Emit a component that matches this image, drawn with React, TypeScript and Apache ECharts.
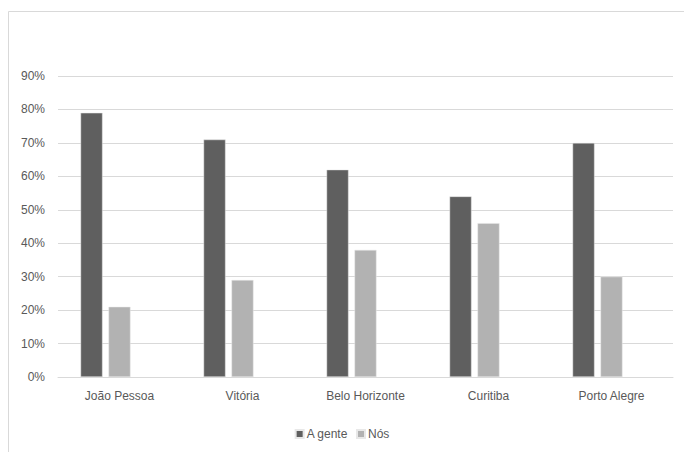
import React, { useEffect, useRef } from "react";
import * as echarts from "echarts";

const categories = ["João Pessoa", "Vitória", "Belo Horizonte", "Curitiba", "Porto Alegre"];
const aGente = [79, 71, 62, 54, 70];
const nos = [21, 29, 38, 46, 30];
const yTicks = [0, 10, 20, 30, 40, 50, 60, 70, 80, 90];

const FONT = "'Liberation Sans Narrow', 'Liberation Sans', Arial, sans-serif";
const TEXT = "#595959";

export default function App() {
  const ref = useRef<HTMLDivElement>(null);
  useEffect(() => {
    if (!ref.current) return;
    const chart = echarts.init(ref.current, undefined, { renderer: "svg" });
    chart.setOption({
      animation: false,
      backgroundColor: "#ffffff",
      textStyle: { fontFamily: FONT },
      graphic: [
        { type: "line", shape: { x1: 8.5, y1: 11.5, x2: 684, y2: 11.5 }, style: { stroke: "#d9d9d9", lineWidth: 1 } },
        { type: "line", shape: { x1: 8.5, y1: 11.5, x2: 8.5, y2: 452 }, style: { stroke: "#d9d9d9", lineWidth: 1 } },
      ],
      grid: { left: 58, right: 11, top: 76, bottom: 75, containLabel: false },
      legend: {
        data: ["A gente", "Nós"],
        bottom: 7,
        left: "center",
        itemWidth: 8,
        itemHeight: 8,
        itemGap: 8,
        icon: "rect",
        textStyle: { color: TEXT, fontSize: 12, fontFamily: FONT, padding: [0, 0, 0, -2] },
      },
      xAxis: {
        type: "category",
        data: categories,
        axisLine: { lineStyle: { color: "#d9d9d9" } },
        axisTick: { show: false },
        axisLabel: { color: TEXT, fontSize: 12, fontFamily: FONT, margin: 13 },
      },
      yAxis: {
        type: "value",
        min: yTicks[0],
        max: yTicks[yTicks.length - 1],
        interval: 10,
        axisLine: { show: false },
        axisTick: { show: false },
        splitLine: { lineStyle: { color: "#d9d9d9" } },
        axisLabel: { color: TEXT, fontSize: 12, fontFamily: FONT, margin: 13, formatter: (v: number) => v + "%" },
      },
      series: [
        { name: "A gente", type: "bar", data: aGente, barWidth: 22, barGap: "27%", itemStyle: { color: "#5f5f5f", borderColor: "#e8e8e8", borderWidth: 0.5 } },
        { name: "Nós", type: "bar", data: nos, barWidth: 22, barGap: "27%", itemStyle: { color: "#b2b2b2", borderColor: "#e8e8e8", borderWidth: 0.5 } },
        { name: "", type: "bar", data: categories.map(() => null), barWidth: 22, barGap: "27%" },
      ],
    });
    return () => chart.dispose();
  }, []);
  return <div ref={ref} style={{ position: "absolute", left: 0, top: 0, width: 684, height: 452 }} />;
}
